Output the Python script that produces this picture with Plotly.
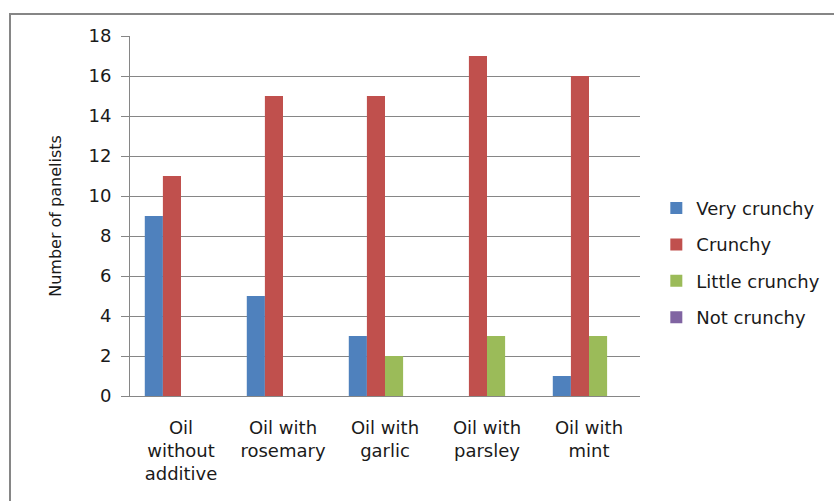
import plotly.graph_objects as go

# Sensory panel: crunchiness ratings for fried oil samples
categories = [
    "Oil<br>without<br>additive",
    "Oil with<br>rosemary",
    "Oil with<br>garlic",
    "Oil with<br>parsley",
    "Oil with<br>mint",
]
very_crunchy = [9, 5, 3, 0, 1]
crunchy = [11, 15, 15, 17, 16]
little_crunchy = [0, 0, 2, 3, 3]
not_crunchy = [0, 0, 0, 0, 0]

series = [
    ("Very crunchy", very_crunchy, "#4F81BD"),
    ("Crunchy", crunchy, "#C0504D"),
    ("Little crunchy", little_crunchy, "#9BBB59"),
    ("Not crunchy", not_crunchy, "#8064A2"),
]

FONT = "DejaVu Sans"
GREY = "#868686"
TEXT = "#1a1a1a"

fig = go.Figure()
for name, values, color in series:
    fig.add_trace(go.Bar(
        x=categories, y=values, name=name,
        marker=dict(color=color, line=dict(width=0)),
        legendgroup=name,
    ))

fig.update_layout(
    width=834, height=501,
    margin=dict(l=130, r=194, t=36, b=105, autoexpand=False),
    paper_bgcolor="white", plot_bgcolor="white",
    barmode="group", bargap=0.29, bargroupgap=0,
    font=dict(family=FONT, size=18, color=TEXT),
    showlegend=True,
    legend=dict(
        x=1.032, xanchor="left", y=0.37, yanchor="middle",
        font=dict(family=FONT, size=18, color=TEXT),
        traceorder="grouped", tracegroupgap=10,
        itemwidth=30, bgcolor="rgba(0,0,0,0)",
    ),
    xaxis=dict(
        showgrid=False, showline=True, linecolor=GREY, linewidth=1,
        ticks="", tickfont=dict(family=FONT, size=18, color=TEXT),
        ticklabelstandoff=15,
    ),
    yaxis=dict(
        range=[0, 18], dtick=2, tick0=0,
        showgrid=True, gridcolor=GREY, gridwidth=1,
        showline=True, linecolor=GREY, linewidth=1,
        ticks="outside", ticklen=8, tickcolor=GREY,
        tickfont=dict(family=FONT, size=18, color=TEXT),
        ticklabelstandoff=6,
        zeroline=False,
        title=dict(text="Number of panelists",
                   font=dict(family=FONT, size=16, color=TEXT), standoff=22),
    ),
    shapes=[
        # chart frame (open to the right and bottom)
        dict(type="rect", xref="paper", yref="paper",
             x0=-0.2353, x1=1.40, y0=-0.32, y1=1.0611,
             line=dict(color=GREY, width=2), fillcolor="rgba(0,0,0,0)", layer="below"),
    ],
)

fig.write_html("out.html")
